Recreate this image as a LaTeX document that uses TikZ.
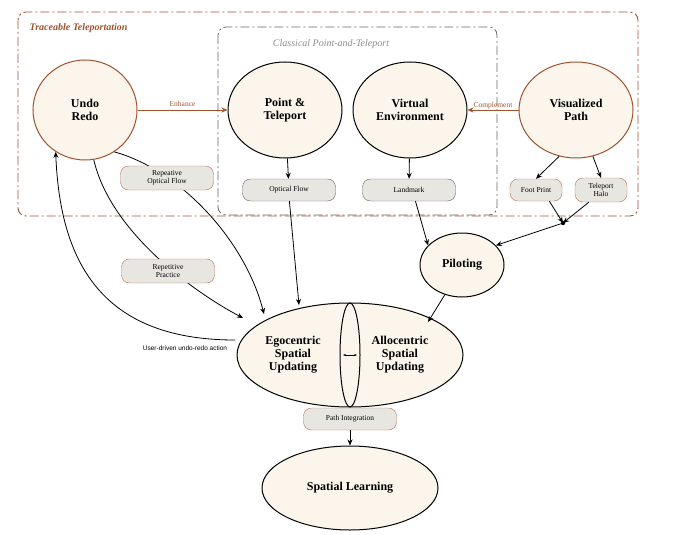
\documentclass[tikz,border=0pt]{standalone}
\usepackage{fontspec}
\setmainfont{Liberation Serif}
\newfontfamily\sansf{Liberation Sans}
\usetikzlibrary{arrows.meta,shapes.geometric}
\definecolor{brn}{HTML}{A0522D}
\definecolor{cream}{HTML}{FBF5EC}
\definecolor{pill}{HTML}{E8E6E1}
\begin{document}
\begin{tikzpicture}[x=1pt,y=-1pt,
  big/.style={ellipse,draw,line width=1pt,fill=cream,align=center,font=\fontsize{12}{13}\selectfont\bfseries,inner sep=0pt},
  pl/.style={rounded corners=8pt,draw=black!60,fill=pill,align=center,font=\fontsize{7.5}{8.5}\selectfont,minimum height=22pt,inner sep=1pt},
  bpl/.style={pl,draw=brn!80},
  arr/.style={-{Stealth[length=6pt,width=5pt]},line width=0.8pt},
  barr/.style={arr,draw=brn},
]
\useasboundingbox (0,0) rectangle (693,535);
\draw[brn,dashed,dash pattern=on 9pt off 3pt on 2pt off 3pt,line width=0.9pt,rounded corners=8pt] (18,12) rectangle (638,216);
\node[anchor=west,text=brn,font=\fontsize{10}{11}\selectfont\bfseries\itshape] (tt) at (26,28) {Traceable Teleportation};
\draw[black!60,dash pattern=on 9pt off 3pt on 2pt off 3pt,line width=0.8pt,rounded corners=8pt] (218,27) rectangle (497,215);
\node[text=black!45,font=\fontsize{10}{11}\selectfont\itshape] (cp) at (331,44) {Classical Point-and-Teleport};

\node[big,draw=brn,minimum width=104pt,minimum height=100pt] (ur) at (85,110) {Undo\\Redo};
\node[big,minimum width=114pt,minimum height=96pt] (pt) at (285,110) {Point \&\\Teleport};
\node[big,minimum width=114pt,minimum height=96pt] (ve) at (410,110) {Virtual\\Environment};
\node[big,draw=brn,minimum width=114pt,minimum height=96pt] (vp) at (576,110) {Visualized\\Path};

\draw[barr] (ur) -- node[above,text=brn,font=\fontsize{7.5}{8}\selectfont]{Enhance} (pt);
\draw[barr] (vp) -- node[above,text=brn,font=\fontsize{7.5}{8}\selectfont,inner sep=1pt]{Complement} (ve);

\node[pl,minimum width=93pt] (of) at (289,190) {Optical Flow};
\node[pl,minimum width=93pt] (lm) at (409,190) {Landmark};
\node[bpl,minimum width=52pt] (fp) at (536,190) {Foot Print};
\node[bpl,minimum width=52pt,minimum height=24pt] (th) at (601,190) {Teleport\\Halo};

\node[big,minimum width=84pt,minimum height=64pt] (pi) at (462,265) {Piloting};
\node[big,minimum width=226pt,minimum height=104pt] (eg) at (350,355) {};
\draw[line width=1pt] (350,355) ellipse (10pt and 52pt);
\node[font=\fontsize{12}{13}\selectfont\bfseries,align=center] (egt) at (293,355) {Egocentric\\Spatial\\Updating};
\node[font=\fontsize{12}{13}\selectfont\bfseries,align=center] (alt) at (400,355) {Allocentric\\Spatial\\Updating};
\coordinate (la) at (343,355);
\coordinate (lb) at (357,355);
\draw[{Stealth[length=3pt]}-{Stealth[length=3pt]},line width=0.5pt] (la) -- (lb);
\node[big,minimum width=176pt,minimum height=84pt] (sl) at (350,488) {Spatial Learning};
\coordinate (dot) at (563,223);
\fill (dot) circle (2.2pt);

% curves behind pills
\draw[arr] (ur.-55) .. controls (180,170) and (245,240) .. (264,314);
\draw[arr] (ur.-80) .. controls (110,230) and (190,290) .. (243,318);
\coordinate (ue) at (235,340);
\draw[arr] (ue) .. controls (100,340) and (60,260) .. (ur.-125);
\node[font=\sansf\fontsize{6.5}{7}\selectfont] (ud) at (185,348) {User-driven undo-redo action};

\node[bpl,minimum width=93pt,minimum height=24pt] (rof) at (167,178) {Repeative\\Optical Flow};
\node[bpl,minimum width=93pt,minimum height=24pt] (rp) at (168,271) {Repetitive\\Practice};

\draw[arr] (pt) -- (of);
\draw[arr] (ve) -- (lm);
\draw[arr] (vp.-110) -- (fp.north);
\draw[arr] (vp.-70) -- (th.north);
\draw[arr] (fp.-40) -- (dot);
\draw[arr] (th.-135) -- (dot);
\draw[arr] (dot) -- (pi.30);
\draw[arr] (lm.-60) -- (pi.150);
\draw[arr] (of.-88) -- (299,305);
\draw[arr] (pi.-120) -- (428,322);
\draw[line width=0.8pt] (eg.south) -- (350,408);
\node[pl,draw=brn!80,minimum width=93pt] (pin) at (350,419) {Path Integration};
\draw[arr] (pin) -- (sl);
\end{tikzpicture}
\end{document}
